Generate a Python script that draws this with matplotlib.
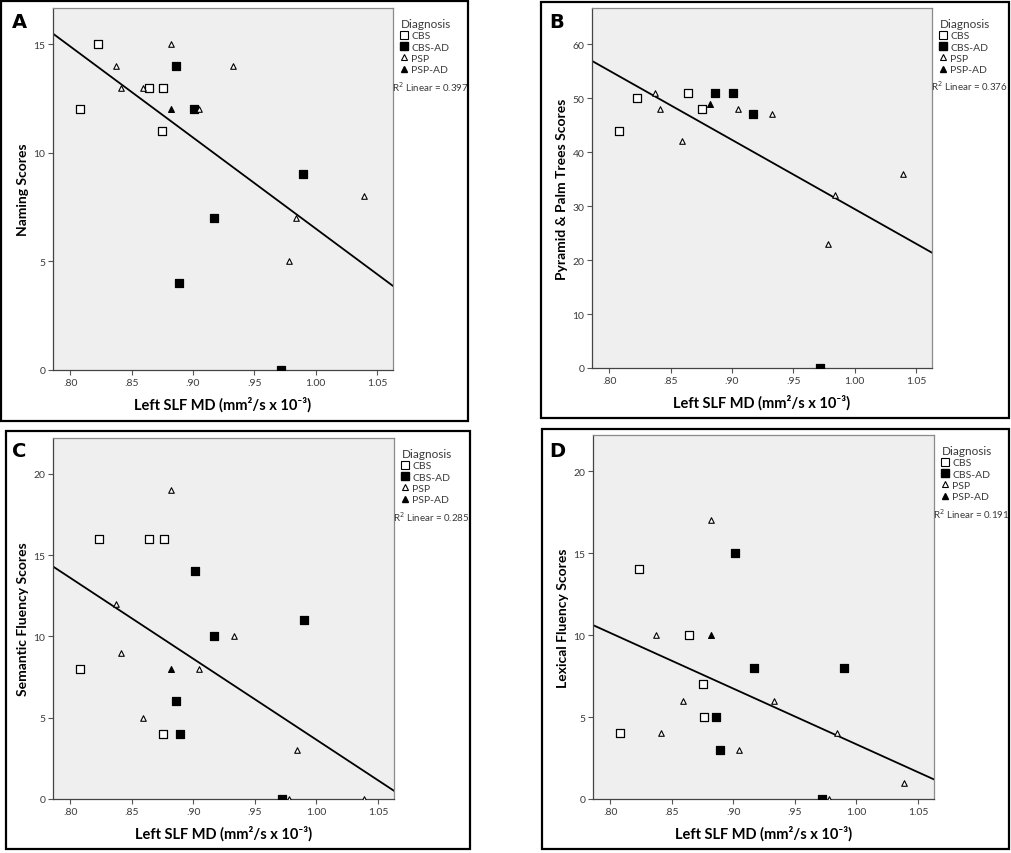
import numpy as np
import matplotlib.pyplot as plt
from matplotlib.lines import Line2D
from matplotlib.patches import Rectangle
from matplotlib.ticker import FuncFormatter

plt.rcParams['font.family'] = ['Lato', 'DejaVu Sans']

W, H = 1012, 854
nan = np.nan

# ---------------------------------------------------------------------------
# Data: Left SLF MD per subject (same subjects in every panel)
# ---------------------------------------------------------------------------
md_cbs = [0.808, 0.823, 0.864, 0.875, 0.876]
md_cbs_ad = [0.886, 0.889, 0.901, 0.917, 0.972, 0.990]
md_psp = [0.837, 0.841, 0.859, 0.882, 0.905, 0.933, 0.978, 0.984, 1.039]
md_psp_ad = [0.882]

# A: naming
naming_cbs = [12, 15, 13, 11, 13]
naming_cbs_ad = [14, 4, 12, 7, 0, 9]
naming_psp = [14, 13, 13, 15, 12, 14, 5, 7, 8]
naming_psp_ad = [12]

# B: pyramid & palm trees
ppt_cbs = [44, 50, 51, nan, 48]
ppt_cbs_ad = [51, nan, 51, 47, 0, nan]
ppt_psp = [51, 48, 42, nan, 48, 47, 23, 32, 36]
ppt_psp_ad = [49]

# C: semantic fluency
sem_cbs = [8, 16, 16, 4, 16]
sem_cbs_ad = [6, 4, 14, 10, 0, 11]
sem_psp = [12, 9, 5, 19, 8, 10, 0, 3, 0]
sem_psp_ad = [8]

# D: lexical fluency
lex_cbs = [4, 14, 10, 7, 5]
lex_cbs_ad = [5, 3, 15, 8, 0, 8]
lex_psp = [10, 4, 6, 17, 3, 6, 0, 4, 1]
lex_psp_ad = [10]

panel_letters = ['A', 'B', 'C', 'D']
y_labels = ['Naming Scores', 'Pyramid & Palm Trees Scores',
            'Semantic Fluency Scores', 'Lexical Fluency Scores']
r2_values = ['0.397', '0.376', '0.285', '0.191']
y_ticks = [[0, 5, 10, 15], [0, 10, 20, 30, 40, 50, 60],
           [0, 5, 10, 15, 20], [0, 5, 10, 15, 20]]
y_tops = [16.66, 66.7, 22.2, 22.2]
scores = [
    (naming_cbs, naming_cbs_ad, naming_psp, naming_psp_ad),
    (ppt_cbs, ppt_cbs_ad, ppt_psp, ppt_psp_ad),
    (sem_cbs, sem_cbs_ad, sem_psp, sem_psp_ad),
    (lex_cbs, lex_cbs_ad, lex_psp, lex_psp_ad),
]
groups = ['CBS', 'CBS-AD', 'PSP', 'PSP-AD']
md_groups = [md_cbs, md_cbs_ad, md_psp, md_psp_ad]

# ---------------------------------------------------------------------------
# Layout (pixels)
# ---------------------------------------------------------------------------
frames = [(1, 2, 468, 422), (541, 3, 1009, 419),
          (6, 432, 470, 850), (542, 430, 1009, 850)]
axes_px = [(53, 9, 393, 371), (592, 9, 932, 369),
           (53, 439, 394, 800), (593, 436, 934, 800)]
letter_px = [(12, 22), (549, 22), (12, 452), (549, 452)]

XLIM = (0.786, 1.063)
TXT = '#3a3a3a'


def xfmt(v, pos):
  s = '%.2f' % v
  return s[1:] if s.startswith('0') else s


fig = plt.figure(figsize=(W / 100, H / 100), dpi=100)

for i in range(4):
  x0, y0, x1, y1 = frames[i]
  fig.patches.append(Rectangle((x0 / W, 1 - y1 / H), (x1 - x0) / W,
                               (y1 - y0) / H, transform=fig.transFigure,
                               fill=False, lw=1.6, ec='black'))
  l, t, r, b = axes_px[i]
  ax = fig.add_axes([l / W, 1 - b / H, (r - l) / W, (b - t) / H])
  ax.set_facecolor('#efefef')
  for sp in ax.spines.values():
    sp.set_color('#8a8a8a')
    sp.set_linewidth(0.9)
  ax.spines['left'].set_color('#444444')
  ax.spines['bottom'].set_color('#444444')

  cbs, cbs_ad, psp, psp_ad = scores[i]
  ax.scatter(md_cbs, cbs, marker='s', s=34, facecolor='white',
             edgecolor='black', linewidth=0.9, zorder=3)
  ax.scatter(md_cbs_ad, cbs_ad, marker='s', s=40, facecolor='black',
             edgecolor='black', linewidth=0.9, zorder=3)
  ax.scatter(md_psp, psp, marker='^', s=16, facecolor='white',
             edgecolor='black', linewidth=0.8, zorder=3)
  ax.scatter(md_psp_ad, psp_ad, marker='^', s=18, facecolor='black',
             edgecolor='black', linewidth=0.8, zorder=3)

  # linear fit over all subjects
  xs = np.concatenate([np.asarray(m, float) for m in md_groups])
  ys = np.concatenate([np.asarray(s, float) for s in scores[i]])
  ok = ~np.isnan(ys)
  slope, icpt = np.polyfit(xs[ok], ys[ok], 1)
  xl = np.array(XLIM)
  ax.plot(xl, icpt + slope * xl, color='black', lw=1.3, zorder=2)

  ax.set_xlim(*XLIM)
  ax.set_ylim(0, y_tops[i])
  ax.set_xticks([0.80, 0.85, 0.90, 0.95, 1.00, 1.05])
  ax.xaxis.set_major_formatter(FuncFormatter(xfmt))
  ax.set_yticks(y_ticks[i])
  ax.tick_params(direction='out', length=3.5, width=0.8, color='#555555',
                 labelsize=7.5, labelcolor=TXT, pad=2)
  ax.set_ylabel(y_labels[i], fontsize=10, fontweight='bold', labelpad=3)
  ax.set_xlabel('Left SLF MD (mm²/s x 10⁻³)', fontsize=10.5,
                fontweight='bold', labelpad=7)

  handles = [
      Line2D([], [], ls='', marker='s', ms=6, mfc='white', mec='black', mew=0.8),
      Line2D([], [], ls='', marker='s', ms=6, mfc='black', mec='black'),
      Line2D([], [], ls='', marker='^', ms=4.5, mfc='white', mec='black', mew=0.8),
      Line2D([], [], ls='', marker='^', ms=4.5, mfc='black', mec='black'),
  ]
  leg = ax.legend(handles, groups, title='Diagnosis', loc='upper left',
                  bbox_to_anchor=(1.005, 0.99), frameon=False, fontsize=7.5,
                  title_fontsize=8.5, handlelength=0.6, handletextpad=0.4,
                  labelspacing=0.2, borderaxespad=0.2, labelcolor=TXT)
  leg._legend_box.align = 'left'
  leg.get_title().set_color(TXT)
  ax.text(0.998, 0.785, 'R$^2$ Linear = ' + r2_values[i],
          transform=ax.transAxes, fontsize=7, color=TXT, ha='left', va='center')

  lx, ly = letter_px[i]
  fig.text(lx / W, 1 - ly / H, panel_letters[i], fontsize=14,
           fontweight='bold', family='DejaVu Sans', ha='left', va='center')

fig.savefig('out.png', dpi=100)
